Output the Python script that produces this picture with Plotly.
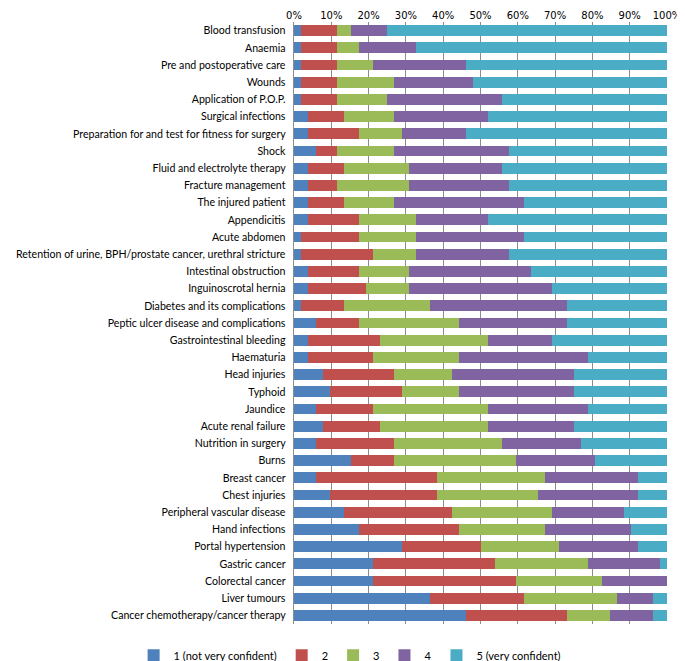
import plotly.graph_objects as go

# respondents per confidence level (n = 52)
topics = [
    "Blood transfusion", "Anaemia", "Pre and postoperative care", "Wounds",
    "Application of P.O.P.", "Surgical infections",
    "Preparation for and test for fitness for surgery", "Shock",
    "Fluid and electrolyte therapy", "Fracture management", "The injured patient",
    "Appendicitis", "Acute abdomen",
    "Retention of urine, BPH/prostate cancer, urethral stricture",
    "Intestinal obstruction", "Inguinoscrotal hernia", "Diabetes and its complications",
    "Peptic ulcer disease and complications", "Gastrointestinal bleeding", "Haematuria",
    "Head injuries", "Typhoid", "Jaundice", "Acute renal failure", "Nutrition in surgery",
    "Burns", "Breast cancer", "Chest injuries", "Peripheral vascular disease",
    "Hand infections", "Portal hypertension", "Gastric cancer", "Colorectal cancer",
    "Liver tumours", "Cancer chemotherapy/cancer therapy",
]
level1 = [1, 1, 1, 1, 1, 2, 2, 3, 2, 2, 2, 2, 1, 1, 2, 2, 1, 3, 2, 2,
          4, 5, 3, 4, 3, 8, 3, 5, 7, 9, 15, 11, 11, 19, 24]
level2 = [5, 5, 5, 5, 5, 5, 7, 3, 5, 4, 5, 7, 8, 10, 7, 8, 6, 6, 10, 9,
          10, 10, 8, 8, 11, 6, 17, 15, 15, 14, 11, 17, 20, 13, 14]
level3 = [2, 3, 5, 8, 7, 7, 6, 8, 9, 10, 7, 8, 8, 6, 7, 6, 12, 14, 15, 12,
          8, 8, 16, 15, 15, 17, 15, 14, 14, 12, 11, 13, 12, 13, 6]
level4 = [5, 8, 13, 11, 16, 13, 9, 16, 13, 14, 18, 10, 15, 13, 17, 20, 19, 15, 9, 18,
          17, 16, 14, 12, 11, 11, 13, 14, 10, 12, 11, 10, 9, 5, 6]
level5 = [39, 35, 28, 27, 23, 25, 28, 22, 23, 22, 20, 25, 20, 22, 19, 16, 14, 14, 16, 11,
          13, 13, 11, 13, 12, 10, 4, 4, 6, 5, 4, 1, 0, 2, 2]

series = [
    ("1 (not very confident)", level1, "#4F81BD"),
    ("2", level2, "#C0504D"),
    ("3", level3, "#9BBB59"),
    ("4", level4, "#8064A2"),
    ("5 (very confident)", level5, "#4BACC6"),
]

fig = go.Figure()
for name, vals, col in series:
    fig.add_trace(go.Bar(
        y=topics, x=vals, name=name, orientation="h",
        marker=dict(color=col, line=dict(width=0)),
    ))

# page body has an 8px margin, so the figure is a bit smaller than the window
fig.update_layout(
    barmode="stack", barnorm="percent", bargap=0.38,
    width=677, height=653,
    margin=dict(l=286, r=18, t=14, b=37, autoexpand=False),
    paper_bgcolor="white", plot_bgcolor="white",
    font=dict(family="Lato, Carlito, sans-serif", size=11, color="#000000"),
    # x < 0 and y < 0 lets the horizontal legend use the full width (one row)
    legend=dict(
        orientation="h", x=-0.43, xanchor="left",
        y=-0.052, yanchor="middle",
        font=dict(size=11), traceorder="normal",
    ),
)
fig.update_xaxes(
    side="top", range=[0, 100], dtick=10, ticksuffix="%",
    showgrid=True, gridcolor="#8c8c8c", gridwidth=1,
    zeroline=False, showline=False, automargin=False,
    tickfont=dict(family="DejaVu Sans, Verdana, sans-serif", size=10),
)
fig.update_yaxes(
    autorange="reversed", showline=True, linecolor="#8c8c8c",
    ticks="", ticksuffix="  ", showgrid=False, automargin=False,
    tickfont=dict(size=10.6),
)

fig.write_html("out.html")
